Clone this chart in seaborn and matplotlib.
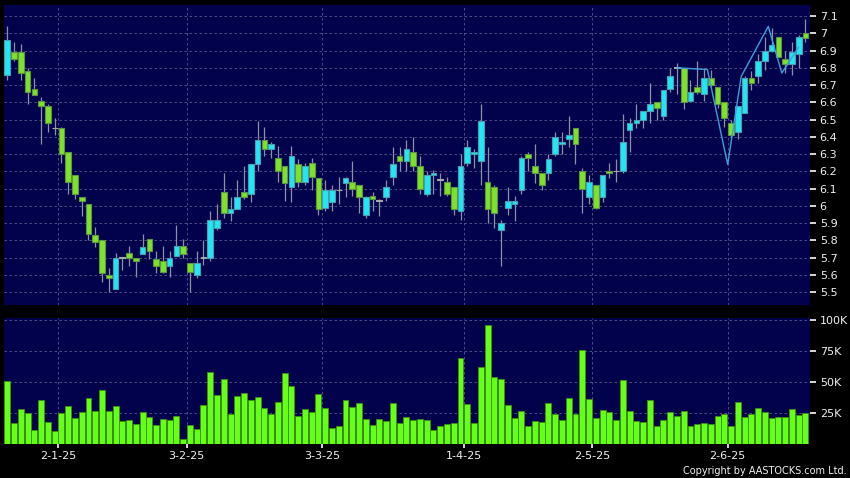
import numpy as np
import pandas as pd
import seaborn as sns
import matplotlib
matplotlib.use("Agg")
import matplotlib.pyplot as plt

# daily candles, 18 Dec 2024 .. 17 Jun 2025
opens = [6.76, 6.89, 6.89, 6.78, 6.68, 6.61, 6.58, 6.45, 6.45, 6.31,
         6.18, 6.05, 6.01, 5.83, 5.80, 5.60, 5.52, 5.70, 5.73, 5.70,
         5.72, 5.81, 5.69, 5.68, 5.65, 5.71, 5.77, 5.67, 5.60, 5.70,
         5.70, 5.87, 6.08, 5.96, 5.98, 6.08, 6.07, 6.24, 6.38, 6.33,
         6.28, 6.23, 6.11, 6.24, 6.14, 6.25, 6.16, 5.99, 6.02, 6.09,
         6.13, 6.14, 6.12, 5.95, 6.06, 6.03, 6.05, 6.17, 6.29, 6.26,
         6.31, 6.23, 6.07, 6.18, 6.15, 6.14, 6.11, 5.97, 6.25, 6.30,
         6.26, 6.14, 6.11, 5.86, 5.99, 6.01, 6.09, 6.30, 6.23, 6.19,
         6.19, 6.30, 6.36, 6.39, 6.45, 6.20, 6.05, 6.12, 6.05, 6.20,
         6.20, 6.20, 6.44, 6.48, 6.50, 6.55, 6.60, 6.52, 6.68, 6.80,
         6.80, 6.61, 6.69, 6.65, 6.74, 6.69, 6.60, 6.48, 6.43, 6.54,
         6.74, 6.75, 6.84, 6.90, 6.98, 6.85, 6.82, 6.88, 7.00]
highs = [7.04, 6.95, 6.94, 6.80, 6.74, 6.63, 6.59, 6.51, 6.46, 6.31,
         6.18, 6.05, 6.01, 5.88, 5.80, 5.64, 5.73, 5.70, 5.77, 5.70,
         5.84, 5.81, 5.74, 5.77, 5.74, 5.89, 5.81, 5.67, 5.74, 5.80,
         5.97, 6.01, 6.19, 6.05, 6.15, 6.23, 6.24, 6.49, 6.46, 6.37,
         6.35, 6.23, 6.35, 6.27, 6.25, 6.28, 6.16, 6.15, 6.12, 6.17,
         6.17, 6.26, 6.12, 6.06, 6.08, 6.04, 6.15, 6.34, 6.34, 6.38,
         6.40, 6.29, 6.20, 6.21, 6.19, 6.17, 6.11, 6.30, 6.38, 6.33,
         6.59, 6.34, 6.12, 5.92, 6.11, 6.06, 6.29, 6.31, 6.36, 6.19,
         6.30, 6.43, 6.43, 6.52, 6.45, 6.22, 6.18, 6.12, 6.18, 6.25,
         6.27, 6.53, 6.51, 6.59, 6.55, 6.71, 6.60, 6.67, 6.80, 6.83,
         6.80, 6.73, 6.84, 6.80, 6.79, 6.69, 6.60, 6.50, 6.58, 6.75,
         6.78, 6.88, 6.98, 7.03, 6.98, 6.90, 6.95, 6.99, 7.08]
lows = [6.73, 6.84, 6.73, 6.59, 6.64, 6.36, 6.43, 6.41, 6.25, 6.07,
        6.04, 5.94, 5.80, 5.76, 5.56, 5.50, 5.52, 5.63, 5.65, 5.59,
        5.72, 5.69, 5.61, 5.61, 5.59, 5.71, 5.70, 5.50, 5.58, 5.66,
        5.68, 5.86, 5.93, 5.91, 5.98, 6.04, 6.02, 6.20, 6.29, 6.28,
        6.14, 6.03, 6.02, 6.11, 6.12, 6.09, 5.95, 5.97, 5.97, 6.01,
        6.05, 6.06, 5.96, 5.93, 5.97, 5.94, 6.03, 6.12, 6.20, 6.20,
        6.20, 6.07, 6.06, 6.07, 6.06, 6.06, 5.95, 5.92, 6.23, 6.22,
        6.12, 5.90, 5.87, 5.65, 5.95, 5.91, 6.07, 6.20, 6.13, 6.09,
        6.15, 6.29, 6.30, 6.34, 6.24, 5.96, 6.01, 5.98, 6.02, 6.16,
        6.14, 6.19, 6.31, 6.45, 6.45, 6.48, 6.50, 6.50, 6.66, 6.65,
        6.56, 6.61, 6.65, 6.61, 6.69, 6.57, 6.46, 6.40, 6.39, 6.54,
        6.67, 6.71, 6.79, 6.89, 6.86, 6.77, 6.76, 6.80, 6.95]
closes = [6.96, 6.85, 6.77, 6.66, 6.64, 6.58, 6.48, 6.45, 6.30, 6.14,
          6.07, 6.03, 5.84, 5.79, 5.61, 5.58, 5.70, 5.70, 5.70, 5.68,
          5.76, 5.74, 5.65, 5.62, 5.70, 5.77, 5.72, 5.62, 5.67, 5.70,
          5.92, 5.92, 5.96, 5.98, 6.05, 6.05, 6.24, 6.38, 6.33, 6.36,
          6.20, 6.13, 6.29, 6.14, 6.23, 6.17, 5.98, 6.09, 6.09, 6.09,
          6.16, 6.10, 6.05, 6.05, 6.04, 6.03, 6.11, 6.24, 6.26, 6.33,
          6.23, 6.10, 6.18, 6.19, 6.15, 6.07, 5.98, 6.23, 6.34, 6.31,
          6.49, 5.98, 5.96, 5.90, 6.03, 6.03, 6.28, 6.28, 6.19, 6.12,
          6.27, 6.40, 6.37, 6.41, 6.36, 6.10, 6.14, 5.99, 6.18, 6.19,
          6.20, 6.37, 6.48, 6.50, 6.55, 6.59, 6.57, 6.67, 6.75, 6.80,
          6.60, 6.66, 6.66, 6.74, 6.70, 6.59, 6.51, 6.41, 6.58, 6.74,
          6.71, 6.84, 6.90, 6.93, 6.86, 6.82, 6.89, 6.98, 6.97]
# volume in thousands of shares
volumes = [51.1, 17.3, 28.4, 24.9, 11.4, 35.7, 18.1, 10.3, 24.9, 30.3,
           21.1, 25.7, 37.3, 26.5, 43.2, 26.8, 30.5, 18.9, 19.7, 16.5,
           25.4, 21.4, 15.7, 20.0, 19.2, 22.4, 4.3, 15.7, 11.9, 31.1,
           57.8, 39.2, 52.4, 24.1, 38.7, 41.1, 35.7, 38.1, 29.2, 23.8,
           34.1, 57.3, 47.0, 22.7, 27.8, 25.7, 40.5, 28.7, 13.0, 14.6,
           35.7, 29.7, 33.0, 20.5, 15.7, 20.3, 18.4, 33.2, 16.8, 21.6,
           19.7, 20.5, 19.2, 11.4, 14.6, 16.2, 16.8, 69.2, 31.9, 17.3,
           62.4, 96.0, 54.1, 52.7, 31.6, 21.1, 26.5, 14.6, 18.9, 18.1,
           33.2, 24.3, 19.7, 37.3, 23.8, 75.9, 36.2, 20.8, 27.0, 25.4,
           19.7, 51.9, 26.5, 18.4, 17.8, 35.1, 14.6, 19.5, 25.7, 22.4,
           26.8, 14.6, 16.5, 17.3, 16.5, 22.2, 23.8, 14.9, 34.1, 21.4,
           24.3, 28.9, 25.4, 20.8, 21.4, 21.6, 27.8, 23.5, 25.1]

# first trading day of each month (bar index) and its label
month_start = [8, 27, 47, 68, 87, 107]
month_labels = ["2-1-25", "3-2-25", "3-3-25", "1-4-25", "2-5-25", "2-6-25"]

# zigzag overlay drawn by the site (bar index, price)
zig_x = [99, 103.5, 106.5, 108.5, 112.5, 114.5, 117]
zig_y = [6.80, 6.79, 6.24, 6.75, 7.04, 6.77, 6.92]

price_ticks = [5.5, 5.6, 5.7, 5.8, 5.9, 6.0, 6.1, 6.2, 6.3, 6.4, 6.5,
               6.6, 6.7, 6.8, 6.9, 7.0, 7.1]
vol_ticks = [25, 50, 75, 100]

df = pd.DataFrame({"open": opens, "high": highs, "low": lows,
                   "close": closes, "volume": volumes})
df["idx"] = np.arange(len(df))

NAVY = "#02024c"
GRID = "#5a5a90"
TXT = "#f0f0f0"
UP, UP_EDGE = "#22e6f4", "#4a9cb0"
DN, DN_EDGE = "#7ee22c", "#5c9440"
DOJI = "#a8a8a8"

sns.set_theme(style="dark", rc={"axes.facecolor": NAVY, "figure.facecolor": "black"})
plt.rcParams["font.family"] = ["DejaVu Sans"]

fig = plt.figure(figsize=(8.5, 4.78), dpi=100)
ax = fig.add_axes([4 / 850, 1 - 305 / 478, 806 / 850, 300 / 478])
axv = fig.add_axes([4 / 850, 1 - 444 / 478, 806 / 850, 126 / 478])

# --- candles
body_lo = df[["open", "close"]].min(axis=1)
body_h = (df["close"] - df["open"]).abs().clip(lower=0.004)
fills, edges = [], []
for o, c in zip(df["open"], df["close"]):
    if c > o:
        fills.append(UP); edges.append(UP_EDGE)
    elif c < o:
        fills.append(DN); edges.append(DN_EDGE)
    else:
        fills.append(DOJI); edges.append(DOJI)

ax.vlines(df["idx"], df["low"], df["high"], color="#8e8ea4", lw=0.9, zorder=2)
ax.bar(df["idx"], body_h, bottom=body_lo, width=0.84, color=fills,
       edgecolor=edges, linewidth=0.8, zorder=3)
sns.lineplot(x=zig_x, y=zig_y, ax=ax, color="#3f9ede", lw=1.0, zorder=4,
             sort=False)

ax.set_xlim(-0.49, 118.67)
ax.set_ylim(5.426, 7.164)
ax.set_yticks(price_ticks)
ax.set_yticklabels([f"{t:g}" for t in price_ticks])
ax.set_xticks([m - 0.5 for m in month_start])
ax.set_xticklabels([])
ax.tick_params(axis="x", length=0)

# --- volume
sns.barplot(x=df["idx"], y=df["volume"], ax=axv, native_scale=True,
            color="#66ff18", edgecolor="#3a9010", linewidth=0.6,
            width=0.88, saturation=1, zorder=3)
axv.set_xlim(-0.49, 118.67)
axv.set_ylim(0, 101.5)
axv.set_yticks(vol_ticks)
axv.set_yticklabels([f"{t}K" for t in vol_ticks])
axv.set_xticks([m - 0.5 for m in month_start])
axv.set_xticklabels(month_labels)
axv.set_xlabel("")
axv.set_ylabel("")
axv.tick_params(axis="x", length=3, pad=2, colors=TXT, labelsize=8,
                bottom=True)

for a in (ax, axv):
    a.set_facecolor(NAVY)
    a.set_axisbelow(True)
    a.grid(True, color=GRID, linestyle=(0, (3, 3)), linewidth=0.6)
    a.yaxis.tick_right()
    a.tick_params(axis="y", length=4, pad=3, colors=TXT, labelsize=8,
                  right=True, left=False)
    for s in a.spines.values():
        s.set_visible(False)

fig.text(0.996, 0.004, "Copyright by AASTOCKS.com Ltd.", color=TXT,
         fontsize=7, ha="right", va="bottom")

fig.savefig("out.png", dpi=100, facecolor="black")
